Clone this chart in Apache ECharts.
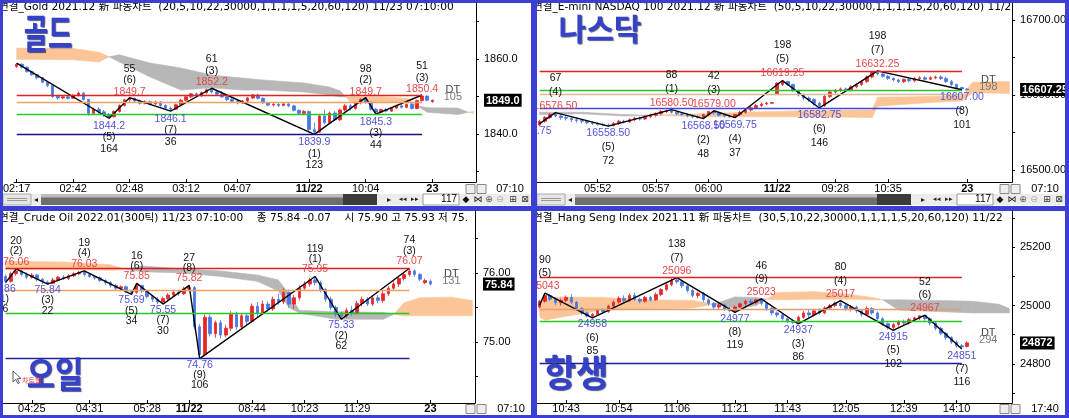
<!DOCTYPE html>
<html><head><meta charset="utf-8">
<script src="https://cdn.jsdelivr.net/npm/echarts@6.0.0/dist/echarts.min.js"></script>
<style>html,body{margin:0;padding:0;background:#fff;overflow:hidden}#c{width:1069px;height:418px}</style>
</head><body><div id="c"></div>
<script>
// ================= DATA =================
const CAT_N = 90;

// ---- Gold ----
const goldTitle = '연결_Gold 2021.12 新 파동차트  (20,5,10,22,30000,1,1,1,1,5,20,60,120) 11/23 07:10:00';
const goldCandles = [
[1858.0,1858.6,1857.6,1858.9],[1858.6,1857.8,1857.5,1858.9],[1857.8,1856.6,1856.4,1858.0],[1856.6,1855.8,1855.5,1856.9],[1855.8,1855.0,1854.6,1856.0],
[1855.0,1853.8,1853.5,1855.2],[1853.8,1852.9,1852.5,1854.0],[1852.9,1850.0,1849.6,1853.1],[1850.0,1849.6,1849.2,1850.4],[1849.6,1849.9,1849.3,1850.2],
[1849.9,1849.5,1849.2,1850.1],[1849.5,1850.3,1849.3,1850.6],[1850.3,1850.9,1850.0,1851.3],[1850.9,1849.2,1848.9,1851.1],[1849.2,1845.5,1844.9,1849.4],
[1845.5,1846.6,1845.2,1847.0],[1846.6,1845.9,1845.4,1847.2],[1845.9,1845.2,1844.6,1846.4],[1845.2,1844.6,1844.2,1845.6],[1844.6,1846.0,1844.4,1846.3],
[1846.0,1847.6,1845.7,1847.9],[1847.6,1849.1,1847.3,1849.4],[1849.1,1849.5,1848.6,1849.7],[1849.5,1848.8,1848.4,1849.7],[1848.8,1848.2,1847.8,1849.2],
[1848.2,1848.6,1847.9,1849.0],[1848.6,1848.0,1847.6,1848.9],[1848.0,1848.5,1847.8,1848.9],[1848.5,1847.6,1847.2,1848.8],[1847.6,1846.9,1846.5,1847.9],
[1846.9,1846.6,1846.1,1847.3],[1846.6,1847.8,1846.4,1848.1],[1847.8,1849.0,1847.5,1849.3],[1849.0,1849.9,1848.7,1850.3],[1849.9,1850.7,1849.6,1851.0],
[1850.7,1850.2,1849.9,1851.1],[1850.2,1851.0,1849.9,1851.3],[1851.0,1851.8,1850.7,1852.1],[1851.8,1851.2,1850.8,1852.2],[1851.2,1850.6,1850.2,1851.6],
[1850.6,1849.9,1849.6,1851.5],[1849.9,1849.2,1848.8,1850.3],[1849.2,1848.7,1848.3,1849.6],[1848.7,1848.3,1847.9,1849.0],[1848.3,1848.8,1848.0,1849.1],
[1848.8,1849.6,1848.5,1849.9],[1849.6,1850.4,1849.3,1850.7],[1850.4,1849.5,1849.2,1850.8],[1849.5,1848.3,1848.0,1849.8],[1848.3,1847.7,1847.4,1848.6],
[1847.7,1847.9,1847.3,1848.3],[1847.9,1847.6,1847.2,1848.2],[1847.6,1848.0,1847.4,1848.4],[1848.0,1847.5,1847.1,1848.3],[1847.5,1846.3,1846.0,1847.8],
[1846.3,1845.5,1845.1,1846.6],[1845.5,1846.0,1845.2,1846.4],[1846.0,1841.2,1840.6,1846.3],[1841.2,1840.5,1839.9,1843.0],[1840.5,1844.8,1840.3,1845.2],
[1844.8,1843.0,1842.6,1846.5],[1843.0,1845.6,1842.8,1846.0],[1845.6,1843.8,1843.4,1846.2],[1843.8,1846.4,1843.5,1846.8],[1846.4,1847.5,1846.0,1848.0],
[1847.5,1846.8,1846.3,1848.0],[1846.8,1848.3,1846.5,1848.6],[1848.3,1849.2,1847.9,1849.5],[1849.2,1848.4,1848.0,1849.7],[1848.4,1846.6,1846.2,1848.7],
[1846.6,1845.8,1845.3,1847.0],[1845.8,1846.5,1845.5,1846.8],[1846.5,1846.1,1845.8,1846.9],[1846.1,1846.9,1845.9,1847.2],[1846.9,1847.5,1846.6,1847.8],
[1847.5,1847.1,1846.8,1847.9],[1847.1,1847.9,1846.9,1848.2],[1847.9,1846.8,1846.5,1848.2],[1846.8,1848.9,1846.6,1849.2],[1848.9,1850.1,1848.6,1850.4],
[1850.1,1849.0,1848.7,1850.3],[1848.6,1849.0,1848.3,1849.2]
];
const goldZigIdx = [0,18,22,30,38,58,68,70,79];
const goldZigVal = [1858.9,1844.2,1849.7,1846.1,1852.2,1839.9,1849.7,1845.3,1850.4];
const goldCnt = [null,164,55,36,61,123,98,44,51];
const goldWave = [null,5,6,7,3,1,2,3,3];
const goldLevels = [1850.4,1848.5,1845.3,1839.9];
const goldCloudIdx = [0,11,16,18,20,26,32,38,44,48,56,61,63,65,71,76,78,80,86,88,89];
const goldSpanA = [1862.9,1862.8,1861.8,1860.6,1859.2,1855.2,1851.7,1852.3,1851.7,1851.7,1851.2,1850.4,1849.9,1849.9,1849.9,1849.5,1847.5,1845.8,1845.2,1845.8,1846.0];
const goldSpanB = [1859.9,1859.8,1859.2,1860.6,1861.1,1858.9,1857.6,1855.7,1854.9,1854.4,1853.6,1852.5,1851.5,1848.6,1848.3,1848.5,1847.5,1847.0,1846.9,1845.8,1845.5];
const goldXIdx = [0,11,22,33,43,57,68,81];
const goldXText = ['02:17','02:42','02:48','03:12','04:07','11/22','10:04','23'];
const goldYLabels = [1840,1860];
const goldYTicks = [1830,1840,1850,1860,1870];
const goldDT = 105;

// ---- E-mini NASDAQ 100 ----
const nasTitle = '연결_E-mini NASDAQ 100 2021.12 新 파동차트  (50,5,10,22,30000,1,1,1,1,5,20,60,120) 11/23 07:10:00';
const nasCandles = [
[16560,16565,16558,16567],[16565,16570,16563,16572],[16570,16574,16568,16576],[16574,16572,16570,16576.5],[16572,16570,16567,16574],
[16570,16569,16566,16572],[16569,16567,16564,16571],[16567,16566,16563,16570],[16566,16565,16562,16568],[16565,16563,16561,16567],
[16563,16562,16560,16565],[16562,16561,16559,16564],[16561,16560,16558.5,16563],[16560,16559,16558.5,16562],[16559,16562,16558.5,16564],
[16562,16565,16560,16567],[16565,16564,16562,16567],[16564,16567,16563,16569],[16567,16569,16565,16571],[16569,16568,16566,16571],
[16568,16571,16567,16573],[16571,16573,16569,16575],[16573,16575,16571,16577],[16575,16578,16573,16580],[16578,16579,16576,16580.5],
[16579,16577,16575,16580.5],[16577,16575,16573,16579],[16575,16574,16572,16577],[16574,16572,16570,16576],[16572,16571,16569,16574],
[16571,16570,16568.5,16573],[16570,16574,16568.5,16575],[16574,16578,16572,16579],[16578,16576,16574,16579],[16576,16573,16571,16578],
[16573,16572,16570,16575],[16572,16571,16569.75,16574],[16571,16574,16569.75,16575],[16574,16577,16572,16579],[16577,16580,16575,16582],
[16580,16583,16578,16585],[16583,16586,16581,16588],[16586,16588,16584,16590],[16588,16589,16587,16591],[16589,16590,16588,16591],
[16601,16616,16600,16617],[16614,16618,16612,16619.25],[16618,16614,16612,16619],[16614,16606,16604,16615],[16606,16600,16598,16607],
[16600,16596,16593,16602],[16596,16594,16591,16598],[16594,16589,16586,16596],[16589,16586,16582.75,16591],[16586,16598,16584,16600],
[16598,16604,16596,16606],[16604,16606,16602,16608],[16606,16608,16604,16610],[16608,16607,16605,16610],[16607,16611,16605,16613],
[16611,16614,16609,16616],[16614,16618,16612,16620],[16618,16624,16616,16626],[16624,16630,16622,16631],[16630,16628,16626,16632.25],
[16628,16625,16623,16630],[16625,16622,16620,16627],[16622,16620,16618,16624],[16620,16618,16616,16622],[16618,16621,16616,16622],
[16621,16619,16617,16623],[16619,16622,16617,16624],[16622,16623,16620,16625],[16623,16621,16619,16625],[16621,16623,16620,16625],
[16623,16624,16621,16626],[16624,16622,16620,16626],[16622,16618,16616,16624],[16618,16614,16612,16620],[16614,16610,16608,16615],
[16610,16608,16607,16611],[16608,16607.25,16606,16609]
];
const nasZigIdx = [0,3,13,25,31,33,37,46,53,64,80];
const nasZigVal = [16561.75,16576.50,16558.50,16580.50,16568.50,16579.00,16569.75,16619.25,16582.75,16632.25,16607.00];
const nasCnt = ['',67,72,88,48,42,37,198,146,198,101];
const nasWave = [null,4,5,1,2,3,4,5,6,7,8];
const nasLevels = [16632.25,16600.5,16607.0,16582.75];
const nasCloudIdx = [0,8,16,21,31,39,50,63,64,74,80,82,89];
const nasSpanA = [16574,16575,16572,16573,16575,16577,16579,16580,16597,16598,16599,16617,16618];
const nasSpanB = [16577,16577,16574,16573,16571,16571,16571,16570,16585,16590,16592,16603,16602];
const nasXIdx = [11,22,32,45,56,66,81];
const nasXText = ['05:52','05:57','06:00','11/22','09:28','10:35','23'];
const nasYLabels = [16500,16600,16700];
const nasYTicks = [16500,16550,16600,16650,16700];
const nasDT = 198;

// ---- Crude Oil ----
const oilTitle = '연결_Crude Oil 2022.01(300틱) 11/23 07:10:00    종 75.84 -0.07    시 75.90 고 75.93 저 75.83';
const oilCandles = [
[75.95,75.88,75.86,75.98],[75.88,75.99,75.86,76.02],[75.99,76.03,75.96,76.06],[76.03,75.98,75.95,76.05],[75.98,75.94,75.91,76.01],
[75.94,75.97,75.92,76.00],[75.97,75.91,75.88,75.99],[75.91,75.87,75.84,75.93],[75.87,75.85,75.84,75.89],[75.85,75.90,75.84,75.93],
[75.90,75.94,75.88,75.96],[75.94,75.92,75.90,75.97],[75.92,75.96,75.90,75.98],[75.96,75.99,75.94,76.01],[75.99,76.01,75.97,76.03],
[76.01,75.98,75.95,76.03],[75.98,75.95,75.93,76.00],[75.95,75.93,75.90,75.97],[75.93,75.89,75.87,75.95],[75.89,75.86,75.83,75.91],
[75.86,75.82,75.79,75.88],[75.82,75.78,75.75,75.84],[75.78,75.80,75.74,75.82],[75.80,75.74,75.71,75.82],[75.74,75.72,75.69,75.76],
[75.72,75.82,75.70,75.85],[75.82,75.74,75.71,75.83],[75.74,75.66,75.63,75.76],[75.66,75.62,75.58,75.68],[75.62,75.58,75.55,75.65],
[75.58,75.63,75.55,75.66],[75.63,75.68,75.61,75.71],[75.68,75.72,75.65,75.74],[75.72,75.70,75.67,75.75],[75.70,75.77,75.68,75.80],
[75.77,75.79,75.74,75.82],[75.79,75.22,75.18,75.81],[75.22,74.82,74.76,75.26],[74.82,75.36,74.80,75.40],[75.36,75.12,75.08,75.40],
[75.12,75.28,75.06,75.31],[75.28,75.10,75.05,75.32],[75.10,75.20,75.07,75.25],[75.20,75.40,75.16,75.45],[75.40,75.22,75.18,75.44],
[75.22,75.38,75.18,75.42],[75.38,75.30,75.25,75.42],[75.30,75.52,75.28,75.56],[75.52,75.42,75.36,75.58],[75.42,75.55,75.40,75.60],
[75.55,75.48,75.44,75.59],[75.48,75.62,75.45,75.66],[75.62,75.58,75.54,75.70],[75.58,75.72,75.55,75.78],[75.72,75.55,75.50,75.76],
[75.55,75.64,75.48,75.68],[75.64,75.78,75.60,75.82],[75.78,75.84,75.74,75.88],[75.84,75.90,75.80,75.93],[75.90,75.86,75.82,75.95],
[75.86,75.76,75.72,75.89],[75.76,75.62,75.58,75.78],[75.62,75.50,75.46,75.66],[75.50,75.40,75.36,75.53],[75.40,75.38,75.33,75.44],
[75.38,75.46,75.35,75.50],[75.46,75.42,75.38,75.52],[75.42,75.56,75.40,75.60],[75.56,75.62,75.52,75.66],[75.62,75.55,75.52,75.65],
[75.55,75.64,75.52,75.68],[75.64,75.60,75.56,75.68],[75.60,75.70,75.57,75.74],[75.70,75.78,75.67,75.81],[75.78,75.84,75.74,75.88],
[75.84,75.92,75.80,75.95],[75.92,75.98,75.89,76.01],[75.98,76.03,75.95,76.07],[76.03,75.98,75.94,76.05],[75.98,75.91,75.88,76.00],
[75.86,75.89,75.84,75.92],[75.88,75.84,75.82,75.91]
];
const oilZigIdx = [0,2,8,15,24,25,30,35,37,59,64,77];
const oilZigVal = [75.86,76.06,75.84,76.03,75.69,75.85,75.55,75.82,74.76,75.95,75.33,76.07];
const oilCnt = [46,20,22,19,34,16,30,27,106,119,62,74];
const oilWave = [1,2,3,4,5,6,7,8,9,1,2,3];
const oilLevels = [76.07,75.75,75.42,74.76];
const oilCloudIdx = [0,11,20,23,26,34,41,48,52,54,56,63,72,74,76,79,85,89];
const oilSpanA = [76.17,76.16,76.12,76.05,76.02,76.00,75.95,75.88,75.74,75.50,75.42,75.33,75.33,75.40,75.57,75.64,75.65,75.60];
const oilSpanB = [76.05,76.05,76.04,76.05,76.10,76.06,76.03,75.97,75.90,75.70,75.46,75.44,75.43,75.40,75.38,75.38,75.38,75.38];
const oilXIdx = [5,16,27,35,47,57,67,81];
const oilXText = ['04:25','04:31','05:28','11/22','08:44','10:23','11:29','23'];
const oilYLabels = [75,76];
const oilYTicks = [74.5,75,75.5,76,76.5];
const oilDT = 131;

// ---- Hang Seng ----
const hsTitle = '연결_Hang Seng Index 2021.11 新 파동차트  (30,5,10,22,30000,1,1,1,1,5,20,60,120) 11/22';
const hsCandles = [
[24995,25015,24990,25020],[25015,25035,25010,25043],[25035,25022,25015,25040],[25022,25010,25002,25028],[25010,25018,25000,25025],
[25018,25028,25012,25035],[25028,25012,25005,25040],[25012,24990,24982,25015],[24990,24975,24968,24995],[24975,24964,24960,24980],
[24964,24970,24958,24975],[24970,24985,24965,24990],[24985,24980,24972,24992],[24980,24998,24975,25003],[24998,25012,24992,25018],
[25012,25025,25006,25032],[25025,25018,25010,25035],[25018,25035,25012,25042],[25035,25022,25015,25045],[25022,25015,25008,25028],
[25015,25028,25010,25033],[25028,25020,25014,25033],[25020,25038,25016,25045],[25038,25055,25032,25060],[25055,25072,25050,25078],
[25072,25088,25066,25094],[25088,25082,25076,25096],[25082,25068,25060,25088],[25068,25052,25045,25072],[25052,25035,25028,25058],
[25035,25042,25025,25048],[25042,25020,25012,25046],[25020,25008,25000,25025],[25008,24995,24988,25012],[24995,25002,24985,25008],
[25002,24988,24982,25006],[24988,24982,24977,24995],[24982,24995,24977,25000],[24995,25006,24990,25010],[25006,25015,25000,25020],
[25015,25010,25003,25023],[25010,25020,25005,25023],[25020,25008,25000,25023],[25008,24990,24982,25012],[24990,24975,24966,24995],
[24975,24968,24960,24980],[24968,24955,24948,24972],[24955,24948,24940,24960],[24948,24942,24937,24952],[24942,24960,24937,24965],
[24960,24975,24955,24982],[24975,24968,24960,24985],[24968,24982,24962,24988],[24982,24975,24968,24990],[24975,24992,24970,24998],
[24992,25000,24986,25006],[25000,25008,24995,25014],[25008,25000,24992,25017],[25000,24990,24982,25005],[24990,24995,24980,25002],
[24995,24982,24975,25000],[24982,24970,24962,24988],[24970,24990,24966,24998],[24990,24975,24968,24995],[24975,24955,24948,24980],
[24955,24938,24930,24960],[24938,24925,24918,24942],[24925,24935,24915,24940],[24935,24945,24928,24950],[24945,24940,24932,24952],
[24940,24952,24935,24958],[24952,24958,24946,24962],[24958,24965,24950,24967],[24965,24955,24948,24967],[24955,24940,24932,24960],
[24940,24922,24915,24945],[24922,24905,24898,24928],[24905,24890,24882,24910],[24890,24875,24868,24895],[24875,24862,24855,24880],
[24862,24858,24851,24868],[24860,24872,24856,24878]
];
const hsZigIdx = [0,1,10,26,37,42,49,57,67,73,80];
const hsZigVal = [25002,25043,24958,25096,24977,25023,24937,25017,24915,24967,24851];
const hsCnt = [null,90,85,138,119,46,86,80,102,52,116];
const hsWave = [null,5,6,7,8,9,3,4,5,6,7];
const hsLevels = [25096,24987,24947,24802];
const hsCloudIdx = [0,1,4,12,20,29,33,37,41,43,45,52,58,63,65,68,75,82,87,89];
const hsSpanA = [25010,25025,25030,25028,25020,25018,25005,24990,25000,25022,25045,25048,25040,25028,25020,24985,24980,24975,24975,24975];
const hsSpanB = [24960,24950,24960,24985,24988,24992,25005,25030,25028,25022,25020,25022,25022,25020,25020,25020,25018,25015,25005,24990];
const hsXIdx = [5,15,26,37,47,58,69,79];
const hsXText = ['10:43','10:54','11:06','11:21','11:43','12:05','12:39','14:10'];
const hsYLabels = [24800,25000,25200];
const hsYTicks = [24700,24800,24900,25000,25100,25200,25300];
const hsDT = 294;

// ================= STYLE / LAYOUT =================
const FONT = "'Liberation Sans', Arial, sans-serif";
const LABEL_FONT = "10.5px 'Liberation Sans', Arial, sans-serif";
const TITLE_FONT = "10.6px 'DejaVu Sans', 'Noto Sans CJK KR', sans-serif";
const KFONT = "'Noto Sans CJK KR', sans-serif";
const UP = '#e8262a', DOWN = '#4677e6', RED_T = '#e5474b', BLUE_T = '#5252d6';
const ORANGE_C = '#fbc598', GRAY_C = '#b7b7b7';
const BORDER = '#3b3fd3';

const panels = [
  {grid:{left:3,top:3,width:473,height:179}, ymin:1827.2, ymax:1874.93, dec:1,
   candles:goldCandles, zigIdx:goldZigIdx, zigVal:goldZigVal, cnt:goldCnt, wave:goldWave,
   levels:goldLevels, levelColors:['#dd2222','#f0a060','#22cc22','#14148c'],
   cloudIdx:goldCloudIdx, spanA:goldSpanA, spanB:goldSpanB,
   xIdx:goldXIdx, xText:goldXText, yLabels:goldYLabels, yTicks:goldYTicks, dt:goldDT,
   lh:11.5, dHigh:0, dLow:2, edgeShift:0, xMargin:1},
  {grid:{left:537,top:3,width:476,height:179}, ymin:16484, ymax:16722.67, dec:2,
   candles:nasCandles, zigIdx:nasZigIdx, zigVal:nasZigVal, cnt:nasCnt, wave:nasWave,
   levels:nasLevels, levelColors:['#dd2222','#d8b898','#22cc22','#4646e0'],
   cloudIdx:nasCloudIdx, spanA:nasSpanA, spanB:nasSpanB,
   xIdx:nasXIdx, xText:nasXText, yLabels:nasYLabels, yTicks:nasYTicks, dt:nasDT,
   lh:14, dHigh:0, dLow:0, edgeShift:-10, xMargin:1},
  {grid:{left:3,top:211,width:472,height:192}, ymin:74.116, ymax:76.899, dec:2,
   candles:oilCandles, zigIdx:oilZigIdx, zigVal:oilZigVal, cnt:oilCnt, wave:oilWave,
   levels:oilLevels, levelColors:['#dd2222','#f0a060','#22cc22','#2222a0'],
   cloudIdx:oilCloudIdx, spanA:oilSpanA, spanB:oilSpanB,
   xIdx:oilXIdx, xText:oilXText, yLabels:oilYLabels, yTicks:oilYTicks, dt:oilDT,
   lh:10.3, dHigh:2, dLow:1, edgeShift:-3, xMargin:0},
  {grid:{left:537,top:211,width:475,height:192}, ymin:24665.5, ymax:25325, dec:0,
   candles:hsCandles, zigIdx:hsZigIdx, zigVal:hsZigVal, cnt:hsCnt, wave:hsWave,
   levels:hsLevels, levelColors:['#dd2222','#e0a070','#22cc22','#1a1aa8'],
   cloudIdx:hsCloudIdx, spanA:hsSpanA, spanB:hsSpanB,
   xIdx:hsXIdx, xText:hsXText, yLabels:hsYLabels, yTicks:hsYTicks, dt:hsDT,
   lh:13.3, dHigh:0, dLow:0, edgeShift:0, xMargin:0}
];

const measureCtx = document.createElement('canvas').getContext('2d');
function textW(t, font){ measureCtx.font = font; return measureCtx.measureText(t).width; }

const option = {animation:false, backgroundColor:'#fff', grid:[], xAxis:[], yAxis:[], series:[], graphic:{elements:[]}};

panels.forEach((P, gi) => {
  option.grid.push(Object.assign({show:false}, P.grid));
  const lbl = new Map(P.xIdx.map((ix,k)=>[ix, P.xText[k]]));
  option.xAxis.push({type:'category', gridIndex:gi, boundaryGap:true,
    data: Array.from({length:CAT_N}, (_,i)=>'c'+i),
    axisLine:{show:true, lineStyle:{color:'#000', width:1}},
    axisTick:{show:true, inside:true, length:3, alignWithLabel:true, interval:(i)=>lbl.has(i), lineStyle:{color:'#000'}},
    axisLabel:{show:true, interval:(i)=>lbl.has(i), margin:P.xMargin, alignMinLabel:'center', alignMaxLabel:'center', hideOverlap:false,
      formatter:(v,i)=>{const t=lbl.get(i)||''; return (t.indexOf('/')>=0||t.length===2)?'{b|'+t+'}':'{n|'+t+'}';},
      rich:{b:{fontWeight:'bold', fontSize:11, fontFamily:FONT, color:'#000'}, n:{fontSize:11, fontFamily:FONT, color:'#000'}}},
    splitLine:{show:false}});
  option.yAxis.push({type:'value', gridIndex:gi, position:'right', min:P.ymin, max:P.ymax,
    axisLine:{show:true, lineStyle:{color:'#000'}},
    axisTick:{show:true, length:3, customValues:P.yTicks, lineStyle:{color:'#000'}},
    axisLabel:{show:true, customValues:P.yLabels, margin:8, fontSize:11, fontFamily:FONT, color:'#000', formatter:(v)=>v.toFixed(P.dec)},
    splitLine:{show:false}});

  // cloud
  const cdata = [];
  for (let k=0;k<P.cloudIdx.length-1;k++) cdata.push([P.cloudIdx[k],P.spanA[k],P.spanB[k],P.cloudIdx[k+1],P.spanA[k+1],P.spanB[k+1]]);
  option.series.push({type:'custom', xAxisIndex:gi, yAxisIndex:gi, clip:true, silent:true, z:1, data:cdata,
    encode:{x:[0,3], y:[1,2,4,5]},
    renderItem(params, api){
      const x0=api.value(0), a0=api.value(1), b0=api.value(2), x1=api.value(3), a1=api.value(4), b1=api.value(5);
      const pa0=api.coord([x0,a0]), pb0=api.coord([x0,b0]), pa1=api.coord([x1,a1]), pb1=api.coord([x1,b1]);
      const d0=a0-b0, d1=a1-b1;
      const col=(d)=>d>=0?ORANGE_C:GRAY_C;
      const poly=(pts,c)=>({type:'polygon', shape:{points:pts}, style:{fill:c, stroke:c, lineWidth:0.6}});
      if (d0*d1<0){
        const t=d0/(d0-d1);
        const px=[pa0[0]+(pa1[0]-pa0[0])*t, pa0[1]+(pa1[1]-pa0[1])*t];
        return {type:'group', children:[poly([pa0,px,pb0],col(d0)), poly([px,pa1,pb1],col(d1))]};
      }
      return poly([pa0,pa1,pb1,pb0], col(d0+d1));
    }});

  // candles
  option.series.push({type:'candlestick', xAxisIndex:gi, yAxisIndex:gi, z:3, barWidth:3, silent:true,
    data:P.candles,
    itemStyle:{color:UP, color0:DOWN, borderColor:UP, borderColor0:DOWN, borderWidth:0.8},
    markLine:{silent:true, symbol:'none', label:{show:false}, animation:false,
      lineStyle:{type:[1,2], color:'#b4b4b4', width:1},
      data:P.yLabels.map(v=>[{coord:[-0.5,v]},{coord:[CAT_N-0.5,v]}])}});

  // zigzag + levels
  option.series.push({type:'line', xAxisIndex:gi, yAxisIndex:gi, z:4, silent:true, symbol:'none',
    data:P.zigIdx.map((x,k)=>[x,P.zigVal[k]]),
    lineStyle:{color:'#000', width:1.4},
    markLine:{silent:true, symbol:'none', label:{show:false}, animation:false,
      data:P.levels.map((v,j)=>[{coord:[-0.5,v], lineStyle:{color:P.levelColors[j], width:1.3, type:'solid'}},{coord:[P.zigIdx[P.zigIdx.length-1],v]}])}});

  // pivot labels
  option.series.push({type:'custom', xAxisIndex:gi, yAxisIndex:gi, clip:true, silent:true, z:6,
    data:P.zigIdx.map((x,k)=>[x,P.zigVal[k],k]), encode:{x:0,y:1},
    renderItem(params, api){
      const k=api.value(2);
      const c=P.cnt[k];
      if (c===null || c===undefined) return null;
      const val=P.zigVal[k];
      const pt=api.coord([P.zigIdx[k], val]);
      const prev=k>0?P.zigVal[k-1]:null, next=k<P.zigVal.length-1?P.zigVal[k+1]:null;
      const high = prev!==null ? val>prev : val>next;
      const x = pt[0] + (P.zigIdx[k]===0 ? P.edgeShift : 0);
      const vt = {t:val.toFixed(P.dec), f:high?RED_T:BLUE_T};
      let lines;
      if (c==='') lines=[vt];
      else if (high) lines=[{t:String(c),f:'#111'},{t:'('+P.wave[k]+')',f:'#111'},vt];
      else lines=[vt,{t:'('+P.wave[k]+')',f:'#111'},{t:String(c),f:'#111'}];
      const n=lines.length;
      return {type:'group', children:lines.map((ln,j)=>{
        const y = high ? pt[1]-P.dHigh-(n-j-0.5)*P.lh : pt[1]+P.dLow+(j+0.5)*P.lh;
        return {type:'text', x:x, y:y, style:{text:ln.t, fill:ln.f, font:LABEL_FONT, align:'center', verticalAlign:'middle'}};
      })};
    }});

  // DT + price box
  const last = P.candles.length-1;
  option.series.push({type:'custom', xAxisIndex:gi, yAxisIndex:gi, clip:false, silent:true, z:8,
    data:[[last, P.candles[last][1]]], encode:{x:0,y:1},
    renderItem(params, api){
      const cs=params.coordSys;
      const v=api.value(1);
      const pt=api.coord([api.value(0)+4, v]);
      const xr=cs.x+cs.width;
      const txt=v.toFixed(P.dec);
      const bf="bold 11px "+FONT;
      const w=textW(txt,bf)+4;
      return {type:'group', children:[
        {type:'text', x:pt[0], y:pt[1]-10, style:{text:'DT', fill:'#444', font:'11px '+FONT, align:'center', verticalAlign:'middle'}},
        {type:'text', x:pt[0], y:pt[1]-3, style:{text:String(P.dt), fill:'#777', font:'11px '+FONT, align:'center', verticalAlign:'middle'}},
        {type:'rect', shape:{x:xr+8, y:pt[1]-6.5, width:w, height:13}, style:{fill:'#000'}},
        {type:'text', x:xr+10, y:pt[1]+0.5, style:{text:txt, fill:'#fff', font:bf, align:'left', verticalAlign:'middle'}}
      ]};
    }});
});

// ================= GRAPHIC (frame, titles, UI) =================
const G = option.graphic.elements;
function rect(x,y,w,h,fill,z,stroke){ G.push({type:'rect', z:z||20, silent:true, shape:{x:x,y:y,width:w,height:h}, style:{fill:fill, stroke:stroke||null, lineWidth:1}}); }
function txt(x,y,t,font,fill,align,extra){ G.push(Object.assign({type:'text', z:22, silent:true, x:x, y:y, style:{text:t, font:font, fill:fill, align:align||'left', verticalAlign:'middle'}}, extra||{})); }

// titles
const titles=[[goldTitle,-1,7.5,477],[nasTitle,533,7.5,480],[oilTitle,-1,218,476],[hsTitle,533,218,479]];
titles.forEach(t=>G.push({type:'text', z:22, silent:true, x:t[1], y:t[2], style:{text:t[0], font:TITLE_FONT, fill:'#000', verticalAlign:'middle', width:t[3], overflow:'truncate', ellipsis:''}}));

// big names
function big(x,y,t,size,sx){ G.push({type:'text', z:22, silent:true, x:x, y:y, scaleX:sx, style:{text:t, font:'bold '+size+'px '+KFONT, fill:'#3442c8', align:'center', verticalAlign:'middle', textShadowColor:'rgba(15,15,80,0.7)', textShadowOffsetX:1, textShadowOffsetY:1, textShadowBlur:1}}); }
big(48,33,'골드',40,0.66);
big(600,29,'나스닥',30,1.0);
big(55,374,'오일',36,0.85);
big(576,373,'항생',37,0.95);

// cursor + small red text
G.push({type:'polygon', z:22, silent:true, shape:{points:[[13,371],[13,382],[15.8,379.3],[17.8,383.6],[19.4,382.9],[17.4,378.6],[21,378.6]]}, style:{fill:'#fff', stroke:'#333', lineWidth:0.8}});
txt(22,380,'차트웹','7px '+KFONT,'#e03030');

// scrollbars (top panels)
function scroll(x0){
  rect(x0,194,528,11,'#cfcfcf');
  rect(x0,194,28,11,'#e6e6e6',21,'#aaa');
  G.push({type:'line', z:22, silent:true, shape:{x1:x0+4,y1:198.5,x2:x0+24,y2:198.5}, style:{stroke:'#999'}});
  G.push({type:'line', z:22, silent:true, shape:{x1:x0+4,y1:200.5,x2:x0+24,y2:200.5}, style:{stroke:'#999'}});
  rect(x0+28,194,10,11,'#ececec');
  txt(x0+33,199.5,'◂','8px '+FONT,'#222','center');
  rect(x0+38,194,302,11,'#bdbdbd');
  rect(x0+38,197.5,302,7.5,'#6f6f6f');
  rect(x0+340,194,34,11,'#3c3c3c');
  rect(x0+374,194,46,11,'#ececec');
  txt(x0+386,199.5,'▸','8px '+FONT,'#222','center');
  txt(x0+400,199.5,'◂◂','7px '+FONT,'#222','center');
  txt(x0+412,199.5,'▸▸','7px '+FONT,'#222','center');
  rect(x0+420,194,36,11,'#fff',21,'#9a9a9a');
  txt(x0+454,199.5,'117','10px '+FONT,'#000','right');
  rect(x0+456,194,72,11,'#ececec');
  [['◆',463,'#111'],['⋈',475,'#111'],['⊕',486,'#555'],['⊖',497,'#aaa'],['⊞',510,'#333'],['⊠',522,'#333']].forEach(a=>txt(x0+a[1],199.5,a[0],'9px DejaVu Sans',a[2],'center'));
}
scroll(3); scroll(537);

// small icons + right-side time labels
[[3,184.5],[537,184.5],[3,404.5],[537,404.5]].forEach(p=>{
  rect(p[0]+463,p[1],9,9,'#eeeeee',21,'#888');
  rect(p[0]+474,p[1],9,9,'#eeeeee',21,'#888');
});
txt(510,189,'07:10','11px '+FONT,'#000','center');
txt(1045,189,'07:10','11px '+FONT,'#000','center');
txt(511,409,'07:10','11px '+FONT,'#000','center');
txt(1045,409,'17:40','11px '+FONT,'#000','center');

// frame
rect(0,0,1069,3,BORDER,100);
rect(0,0,3,418,BORDER,100);
rect(1065,0,4,418,BORDER,100);
rect(0,415,1069,3,BORDER,100);
rect(531,0,6,418,BORDER,100);
rect(0,206,1069,5,BORDER,100);

const chart = echarts.init(document.getElementById('c'), null, {renderer:'canvas'});
chart.setOption(option);
</script>
</body></html>
